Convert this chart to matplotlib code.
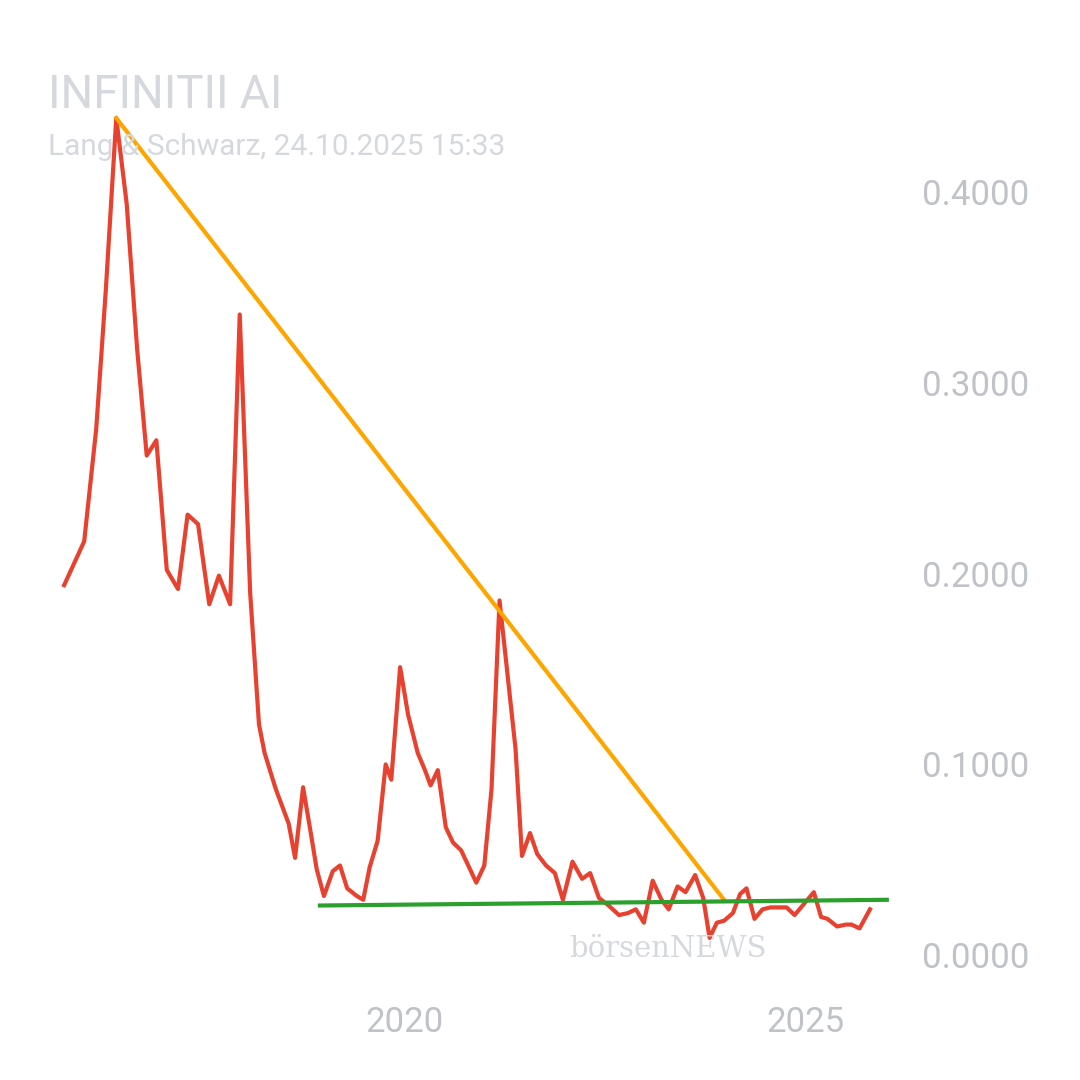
import matplotlib
matplotlib.use("Agg")
import matplotlib.pyplot as plt

years = [2015.75,2016.0,2016.15,2016.27,2016.40,2016.53,2016.66,2016.78,2016.90,2017.03,2017.17,2017.29,2017.42,2017.56,2017.68,2017.82,2017.94,2018.07,2018.18,2018.25,2018.39,2018.47,2018.55,2018.63,2018.73,2018.83,2018.90,2018.99,2019.10,2019.19,2019.28,2019.40,2019.48,2019.56,2019.66,2019.76,2019.83,2019.94,2020.04,2020.16,2020.25,2020.32,2020.41,2020.51,2020.60,2020.70,2020.79,2020.89,2020.99,2021.08,2021.18,2021.28,2021.38,2021.46,2021.56,2021.65,2021.76,2021.87,2021.97,2022.09,2022.21,2022.31,2022.42,2022.54,2022.67,2022.78,2022.88,2022.98,2023.09,2023.20,2023.29,2023.40,2023.50,2023.62,2023.72,2023.80,2023.89,2023.98,2024.09,2024.18,2024.26,2024.36,2024.46,2024.56,2024.66,2024.76,2024.86,2024.96,2025.10,2025.19,2025.27,2025.39,2025.50,2025.57,2025.67,2025.80]
prices = [0.194,0.217,0.276,0.349,0.439,0.394,0.318,0.262,0.270,0.202,0.192,0.231,0.226,0.184,0.199,0.184,0.336,0.190,0.121,0.106,0.087,0.078,0.069,0.051,0.088,0.063,0.045,0.031,0.044,0.047,0.035,0.031,0.029,0.046,0.060,0.100,0.092,0.151,0.126,0.106,0.097,0.089,0.097,0.067,0.059,0.055,0.047,0.038,0.047,0.087,0.186,0.147,0.108,0.052,0.064,0.053,0.047,0.043,0.029,0.049,0.040,0.043,0.030,0.026,0.021,0.022,0.024,0.017,0.039,0.029,0.024,0.036,0.033,0.042,0.030,0.009,0.017,0.018,0.022,0.032,0.035,0.019,0.024,0.025,0.025,0.025,0.021,0.026,0.033,0.020,0.019,0.015,0.016,0.016,0.014,0.024]
down_x = [2016.40, 2023.98]; down_y = [0.439, 0.029]
sup_x = [2018.94, 2026.01]; sup_y = [0.026, 0.029]
yticks = [0.0, 0.1, 0.2, 0.3, 0.4]
xticks = [2020, 2025]

fig = plt.figure(figsize=(10.8, 10.8), dpi=100)
ax = fig.add_axes([0, 0.074, 0.833, 0.852])
ax.plot(years, prices, color="#e8412f", lw=3)
ax.plot(down_x, down_y, color="#ffa500", lw=3)
ax.plot(sup_x, sup_y, color="#2ca02c", lw=3)
ax.set_xlim(2014.95, 2026.17)
ax.set_ylim(-0.0236, 0.459)
for s in ax.spines.values():
    s.set_visible(False)
ax.yaxis.tick_right()
ax.set_yticks(yticks)
ax.set_yticklabels([f"{v:.4f}" for v in yticks])
ax.set_xticks(xticks)
ax.set_xticklabels([str(v) for v in xticks])
ax.tick_params(length=0, colors="#bfc2c6", labelsize=25, pad=18)
ax.tick_params(axis="x", pad=4)
ax.tick_params(axis="y", pad=16)
for t in ax.get_xticklabels() + ax.get_yticklabels():
    t.set_fontfamily("Roboto")
fig.text(0.044, 0.912, "INFINITII AI", fontsize=33, color="#d5d8dc", family="Roboto", va="center")
fig.text(0.044, 0.864, "Lang & Schwarz, 24.10.2025 15:33", fontsize=21.5, color="#d5d8dc", family="Roboto", va="center")
fig.text(0.527, 0.121, "börsenNEWS", fontsize=21, color="#d5d8dc", family="DejaVu Serif", va="center")
fig.savefig("out.png", dpi=100)
